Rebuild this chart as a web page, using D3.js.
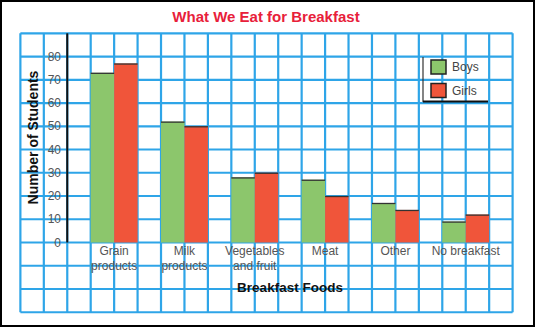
<!DOCTYPE html>
<html>
<head>
<meta charset="utf-8">
<script src="https://cdn.jsdelivr.net/npm/d3@7"></script>
<style>
  html, body { margin: 0; padding: 0; background: #fff; }
  svg { display: block; font-family: "Liberation Sans", Arial, sans-serif; }
</style>
</head>
<body>
<svg id="chart" width="536" height="328"></svg>
<script>
// ---- data ----
const categories = ["Grain products", "Milk products", "Vegetables and fruit", "Meat", "Other", "No breakfast"];
const categoryLines = [["Grain", "products"], ["Milk", "products"], ["Vegetables", "and fruit"], ["Meat"], ["Other"], ["No breakfast"]];
const seriesNames = ["Boys", "Girls"];
const boys  = [73, 52, 28, 27, 17, 9];
const girls = [77, 50, 30, 20, 14, 12];
const yTicks = [0, 10, 20, 30, 40, 50, 60, 70, 80];
const title = "What We Eat for Breakfast";
const xTitle = "Breakfast Foods";
const yTitle = "Number of Students";

// ---- styles ----
const colors = { Boys: "#8cc66c", Girls: "#f0553a" };
const gridColor = "#2ea5e8";

const svg = d3.select("#chart");

// outer frame
svg.append("rect").attr("x", 1).attr("y", 1).attr("width", 533).attr("height", 325)
  .attr("fill", "#fff").attr("stroke", "#000").attr("stroke-width", 2);

// scales
const y = d3.scaleLinear().domain([0, 90]).range([242.5, 33.3]);
const x = d3.scaleBand().domain(categories).range([90.7, 512.6]).paddingInner(0).paddingOuter(0);
const cell = x.step() / 3;
const xs = d3.scaleBand().domain(seriesNames).range([0, cell * 2]);

const gridLeft = x.range()[0] - 3 * cell;
const gridRight = x.range()[1];

// grid: horizontal lines every 10 units from -30 to 90
const hVals = d3.range(-30, 91, 10);
svg.append("g").selectAll("line").data(hVals).join("line")
  .attr("x1", gridLeft).attr("x2", gridRight)
  .attr("y1", d => y(d)).attr("y2", d => y(d))
  .attr("stroke", gridColor).attr("stroke-width", 2.2);

// grid: vertical lines every cell
const vIdx = d3.range(-3, 19);
svg.append("g").selectAll("line").data(vIdx).join("line")
  .attr("x1", k => x.range()[0] + k * cell).attr("x2", k => x.range()[0] + k * cell)
  .attr("y1", y(90)).attr("y2", y(-30))
  .attr("stroke", gridColor).attr("stroke-width", 2.2);

// bars
const data = categories.map((c, i) => ({ cat: c, vals: [{ s: "Boys", v: boys[i] }, { s: "Girls", v: girls[i] }] }));
const groups = svg.append("g").selectAll("g").data(data).join("g")
  .attr("transform", d => `translate(${x(d.cat)},0)`);
groups.selectAll("rect").data(d => d.vals).join("rect")
  .attr("x", d => xs(d.s)).attr("width", xs.bandwidth())
  .attr("y", d => y(d.v)).attr("height", d => y(0) - y(d.v))
  .attr("fill", d => colors[d.s]);
groups.selectAll("line").data(d => d.vals).join("line")
  .attr("x1", d => xs(d.s)).attr("x2", d => xs(d.s) + xs.bandwidth())
  .attr("y1", d => y(d.v) + 0.5).attr("y2", d => y(d.v) + 0.5)
  .attr("stroke", "#333").attr("stroke-width", 1.3);

// y axis line
const axisX = x.range()[0] - cell;
svg.append("line").attr("x1", axisX).attr("x2", axisX)
  .attr("y1", y(90)).attr("y2", y(0))
  .attr("stroke", "#111").attr("stroke-width", 2);

// y tick labels
svg.append("g").selectAll("text").data(yTicks).join("text")
  .attr("x", 61).attr("y", d => y(d) + 4)
  .attr("text-anchor", "end").attr("font-size", 12).attr("fill", "#555")
  .text(d => d);

// category labels
const catG = svg.append("g").selectAll("text").data(categories).join("text")
  .attr("x", d => x(d) + cell).attr("y", 254.5)
  .attr("text-anchor", "middle").attr("font-size", 12).attr("fill", "#555");
catG.selectAll("tspan").data((d, i) => categoryLines[i]).join("tspan")
  .attr("x", function () { return d3.select(this.parentNode).attr("x"); })
  .attr("dy", (d, i) => i === 0 ? 0 : 15.5)
  .text(d => d);

// title
svg.append("text").attr("x", 266).attr("y", 21.5).attr("text-anchor", "middle")
  .attr("font-size", 15).attr("font-weight", "bold").attr("fill", "#e8203a")
  .text(title);

// x title
svg.append("text").attr("x", 290).attr("y", 291.5).attr("text-anchor", "middle")
  .attr("font-size", 13.5).attr("font-weight", "bold").attr("fill", "#111")
  .text(xTitle);

// y title
svg.append("text").attr("transform", "translate(38,137.5) rotate(-90)")
  .attr("text-anchor", "middle").attr("font-size", 14).attr("font-weight", "bold").attr("fill", "#111")
  .text(yTitle);

// legend
const lg = svg.append("g");
lg.append("line").attr("x1", 423).attr("x2", 423).attr("y1", 57).attr("y2", 102)
  .attr("stroke", "#333").attr("stroke-width", 1.2);
lg.append("line").attr("x1", 423).attr("x2", 488).attr("y1", 101.5).attr("y2", 101.5)
  .attr("stroke", "#111").attr("stroke-width", 2);
const li = lg.selectAll("g").data(seriesNames).join("g")
  .attr("transform", (d, i) => `translate(431,${60 + i * 23.5})`);
li.append("rect").attr("width", 15).attr("height", 14)
  .attr("fill", d => colors[d]).attr("stroke", "#222").attr("stroke-width", 1.5);
li.append("text").attr("x", 21).attr("y", 11).attr("font-size", 12).attr("fill", "#444")
  .text(d => d);
</script>
</body>
</html>
